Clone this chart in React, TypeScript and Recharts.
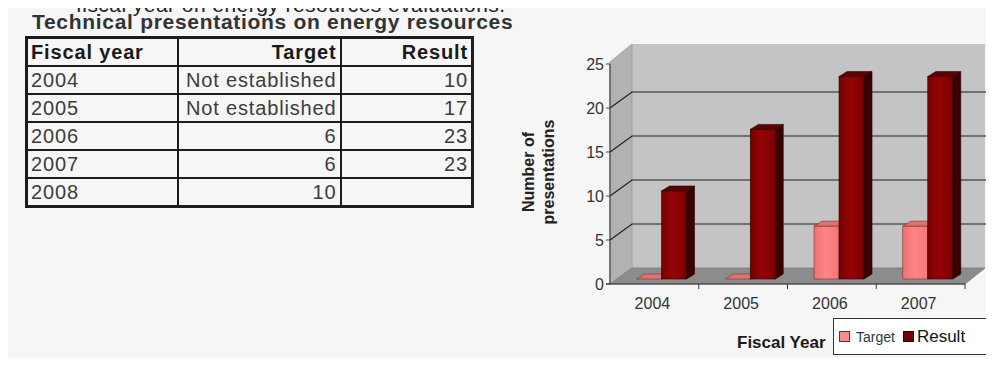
import { BarChart, Bar, XAxis, YAxis, CartesianGrid } from 'recharts'

const FONT = '"Liberation Sans", Arial, Helvetica, sans-serif'

// table + chart values
const YEARS = ['2004', '2005', '2006', '2007', '2008']
const TARGET: (number | null)[] = [null, null, 6, 6, 10] // null = not established
const RESULT: (number | null)[] = [10, 17, 23, 23, null]
const NOT_SET = 'Not established'
const Y_TICKS = [0, 5, 10, 15, 20, 25]
const SERIES = ['Target', 'Result']

const chartData = YEARS.map((year, i) => ({
  year,
  target: TARGET[i] ?? 0,
  result: RESULT[i],
})).filter(d => d.result != null)

// layout (chart coords)
const CHART_X = 500
const CHART_Y = 20
const CHART_W = 494
const CHART_H = 346
const MARGIN = { top: 44, right: 29, left: 70, bottom: 52 }
const Y_AXIS_W = 40
const X_AXIS_H = 30
const PLOT_L = MARGIN.left + Y_AXIS_W
const PLOT_T = MARGIN.top
const PLOT_R = CHART_W - MARGIN.right
const PLOT_B = CHART_H - MARGIN.bottom - X_AXIS_H
const BAND = (PLOT_R - PLOT_L) / chartData.length

const DEPTH = { dx: 22, dy: -16 }
const SHIFT = { dx: 7, dy: -5 }
const BAR_D = { dx: 8, dy: -5 }

const PAL = {
  target: { front: 'url(#tgtFront)', top: '#e07272', side: '#b05252', edge: '#7a3030' },
  result: { front: 'url(#resFront)', top: '#5e0000', side: '#3a0000', edge: '#250000' },
}

function Bar3D(props: any) {
  const { x, y, width, height, pal } = props
  if (x == null || y == null) return null
  const fx = x + SHIFT.dx
  const fy = y + SHIFT.dy
  const w = width
  const h = Math.max(height || 0, 0)
  const { dx, dy } = BAR_D
  return (
    <g>
      <polygon
        points={`${fx + w},${fy} ${fx + w + dx},${fy + dy} ${fx + w + dx},${fy + h + dy} ${fx + w},${fy + h}`}
        fill={pal.side}
        stroke={pal.edge}
        strokeWidth={0.6}
      />
      <polygon
        points={`${fx},${fy} ${fx + dx},${fy + dy} ${fx + w + dx},${fy + dy} ${fx + w},${fy}`}
        fill={pal.top}
        stroke={pal.edge}
        strokeWidth={0.6}
      />
      {h > 0 && (
        <rect x={fx} y={fy} width={w} height={h} fill={pal.front} stroke={pal.edge} strokeWidth={0.6} />
      )}
    </g>
  )
}

function GridLine(p: any) {
  const { x1, y1, x2 } = p
  if (Math.abs(y1 - PLOT_T) < 0.5 || Math.abs(y1 - PLOT_B) < 0.5) return <g />
  return (
    <path
      d={`M${x1},${y1} L${x1 + DEPTH.dx},${y1 + DEPTH.dy} L${x2 + DEPTH.dx},${y1 + DEPTH.dy}`}
      fill="none"
      stroke="#1e1e1e"
      strokeWidth={1.2}
    />
  )
}

function XTick({ x, payload }: any) {
  return (
    <g>
      <text x={x - 2} y={PLOT_B + 25} textAnchor="middle" fontSize={16} fill="#333" fontFamily={FONT}>
        {payload.value}
      </text>
      <line x1={x + BAND / 2} x2={x + BAND / 2} y1={PLOT_B} y2={PLOT_B + 5} stroke="#333" />
    </g>
  )
}

function Walls() {
  const { dx, dy } = DEPTH
  const topBack = PLOT_T + dy - 4
  return (
    <svg width={CHART_W} height={CHART_H} style={{ position: 'absolute', left: CHART_X, top: CHART_Y }}>
      <rect x={PLOT_L + dx} y={topBack} width={PLOT_R - PLOT_L - 2} height={PLOT_B + dy - topBack} fill="#c4c4c4" />
      <polygon
        points={`${PLOT_L},${PLOT_T - 2} ${PLOT_L + dx},${topBack} ${PLOT_L + dx},${PLOT_B + dy} ${PLOT_L},${PLOT_B}`}
        fill="#b2b2b2"
        stroke="#9a9a9a"
        strokeWidth={0.8}
      />
      <polygon
        points={`${PLOT_L},${PLOT_B} ${PLOT_R},${PLOT_B} ${PLOT_R + dx - 2},${PLOT_B + dy} ${PLOT_L + dx},${PLOT_B + dy}`}
        fill="#8c8c8c"
        stroke="#7a7a7a"
        strokeWidth={0.8}
      />
      <line x1={PLOT_L - 4} x2={PLOT_L} y1={PLOT_B} y2={PLOT_B} stroke="#333" strokeWidth={1.2} />
    </svg>
  )
}

const cell = {
  border: '2px solid #1c1c1c',
  padding: '0 3px',
  height: 26,
  lineHeight: '26px',
  fontSize: 20,
  letterSpacing: 0.85,
  color: '#3c3c3c',
  whiteSpace: 'nowrap' as const,
}
const head = { ...cell, fontWeight: 700, color: '#1a1a1a' }

export default function App() {
  return (
    <div
      style={{
        position: 'relative',
        width: 994,
        height: 366,
        margin: -8,
        overflow: 'hidden',
        background: '#fff',
        fontFamily: FONT,
      }}
    >
      <div style={{ position: 'absolute', left: 7, top: 6, width: 983, height: 360, background: '#f6f6f6' }} />
      <div
        style={{
          position: 'absolute',
          left: 76,
          top: -7,
          fontSize: 21,
          letterSpacing: 0.45,
          lineHeight: '24px',
          color: '#222',
          whiteSpace: 'nowrap',
        }}
      >
        fiscal year on energy resources evaluations.
      </div>
      <div
        style={{
          position: 'absolute',
          left: 32,
          top: 10,
          fontSize: 21,
          letterSpacing: 0.7,
          lineHeight: '24px',
          fontWeight: 700,
          color: '#333',
          whiteSpace: 'nowrap',
        }}
      >
        Technical presentations on energy resources
      </div>

      <table
        style={{
          position: 'absolute',
          left: 25,
          top: 36,
          width: 449,
          borderCollapse: 'collapse',
          border: '3px solid #1c1c1c',
          fontFamily: FONT,
        }}
      >
        <colgroup>
          <col style={{ width: 151 }} />
          <col style={{ width: 163 }} />
          <col style={{ width: 132 }} />
        </colgroup>
        <tbody>
          <tr>
            <td style={{ ...head, textAlign: 'left' }}>Fiscal year</td>
            <td style={{ ...head, textAlign: 'right' }}>{SERIES[0]}</td>
            <td style={{ ...head, textAlign: 'right' }}>{SERIES[1]}</td>
          </tr>
          {YEARS.map((y, i) => (
            <tr key={y}>
              <td style={{ ...cell, textAlign: 'left' }}>{y}</td>
              <td style={{ ...cell, textAlign: 'right' }}>{TARGET[i] == null ? NOT_SET : TARGET[i]}</td>
              <td style={{ ...cell, textAlign: 'right' }}>{RESULT[i] ?? ''}</td>
            </tr>
          ))}
        </tbody>
      </table>

      <Walls />
      <div style={{ position: 'absolute', left: CHART_X, top: CHART_Y }}>
        <BarChart
          width={CHART_W}
          height={CHART_H}
          data={chartData}
          margin={MARGIN}
          barCategoryGap="22%"
          barGap={0}
        >
          <defs>
            <linearGradient id="resFront" x1="0" y1="0" x2="1" y2="0">
              <stop offset="0%" stopColor="#760000" />
              <stop offset="45%" stopColor="#960404" />
              <stop offset="100%" stopColor="#7a0000" />
            </linearGradient>
            <linearGradient id="tgtFront" x1="0" y1="0" x2="1" y2="0">
              <stop offset="0%" stopColor="#f07070" />
              <stop offset="45%" stopColor="#ff8484" />
              <stop offset="100%" stopColor="#f47878" />
            </linearGradient>
          </defs>
          <CartesianGrid vertical={false} horizontal={(p: any) => <GridLine {...p} />} />
          <XAxis
            dataKey="year"
            height={X_AXIS_H}
            interval={0}
            tickLine={false}
            axisLine={{ stroke: '#333', strokeWidth: 1.2 }}
            tick={(p: any) => <XTick {...p} />}
          />
          <YAxis
            width={Y_AXIS_W}
            domain={[0, 25]}
            ticks={Y_TICKS}
            interval={0}
            tickSize={4}
            tickMargin={2}
            axisLine={{ stroke: '#444', strokeWidth: 1.2 }}
            tickLine={{ stroke: '#444' }}
            tick={{ fontSize: 16, fill: '#333', fontFamily: FONT }}
          />
          <Bar
            dataKey="target"
            name={SERIES[0]}
            isAnimationActive={false}
            shape={(p: any) => <Bar3D {...p} pal={PAL.target} />}
          />
          <Bar
            dataKey="result"
            name={SERIES[1]}
            isAnimationActive={false}
            shape={(p: any) => <Bar3D {...p} pal={PAL.result} />}
          />
        </BarChart>
      </div>

      <div
        style={{
          position: 'absolute',
          left: 539,
          top: 172,
          width: 150,
          transform: 'translate(-50%, -50%) rotate(-90deg)',
          fontSize: 16,
          lineHeight: '20px',
          fontWeight: 700,
          color: '#222',
          textAlign: 'center',
        }}
      >
        Number of
        <br />
        presentations
      </div>

      <div
        style={{
          position: 'absolute',
          left: 737,
          top: 333,
          fontSize: 17,
          lineHeight: '20px',
          fontWeight: 700,
          color: '#1a1a1a',
          whiteSpace: 'nowrap',
        }}
      >
        Fiscal Year
      </div>

      <div
        style={{
          position: 'absolute',
          left: 833,
          top: 318,
          width: 155,
          height: 37,
          background: '#fff',
          border: '1.5px solid #333',
          display: 'flex',
          alignItems: 'center',
          paddingLeft: 5,
          boxSizing: 'border-box',
          whiteSpace: 'nowrap',
        }}
      >
        <span style={{ width: 9, height: 9, background: '#ff8a8a', border: '1px solid #6a3030', display: 'inline-block' }} />
        <span style={{ fontSize: 14, color: '#2a3a3a', marginLeft: 6, marginRight: 8 }}>{SERIES[0]}</span>
        <span style={{ width: 9, height: 9, background: '#700010', border: '1px solid #300000', display: 'inline-block' }} />
        <span style={{ fontSize: 17, color: '#111', marginLeft: 3 }}>{SERIES[1]}</span>
      </div>
    </div>
  )
}
